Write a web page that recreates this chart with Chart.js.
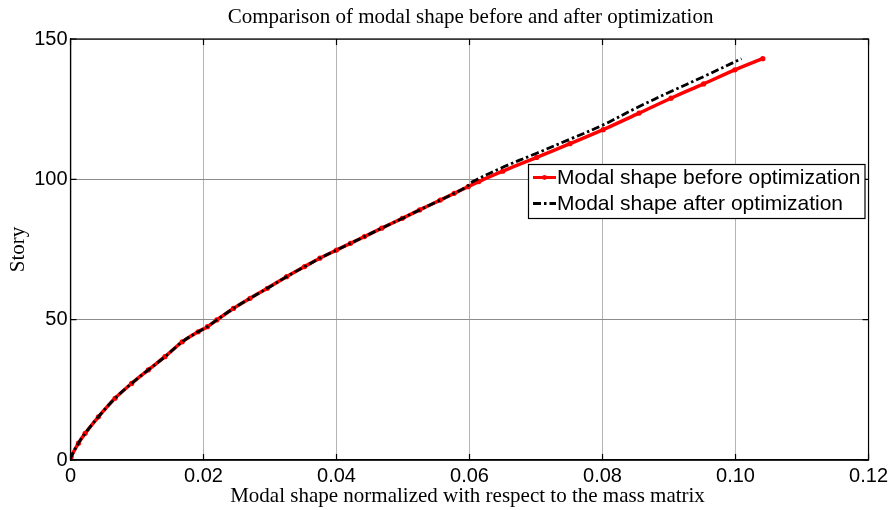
<!DOCTYPE html>
<html>
<head>
<meta charset="utf-8">
<script src="https://cdn.jsdelivr.net/npm/chart.js@4"></script>
<style>
  body { margin: 0; background: #fff; }
</style>
</head>
<body>
<canvas id="myChart" width="892" height="510"></canvas>
<script>
const ctx = document.getElementById('myChart').getContext('2d');

// values (story vs normalized modal shape)
const storyBefore = [0, 1.2, 6, 9.5, 15.4, 22, 27.3, 32.1, 36.8, 42.1, 45.7, 47.5, 49.9, 54, 57.6, 61.2, 65.3, 68.9, 71.9, 74.8, 77.2, 79.6, 82.6, 86.1, 89.1, 92.6, 95, 97.4, 99.2, 102.9, 107.8, 112.7, 117.7, 123.6, 128.9, 134, 139, 143];
const shapeBefore = [0, 0.0001, 0.0012, 0.0022, 0.0042, 0.0067, 0.0092, 0.0117, 0.0142, 0.0168, 0.0192, 0.0206, 0.022, 0.0245, 0.027, 0.0296, 0.0325, 0.0352, 0.0375, 0.04, 0.0421, 0.0442, 0.0468, 0.0499, 0.0525, 0.0556, 0.0577, 0.0598, 0.0614, 0.065, 0.0701, 0.0751, 0.0801, 0.0855, 0.0903, 0.0952, 0.0999, 0.1041];

const storyAfter = [0, 1.2, 6, 9.5, 15.4, 22, 27.3, 32.1, 36.8, 42.1, 45.7, 47.5, 49.9, 54, 57.6, 61.2, 65.3, 68.9, 71.9, 74.8, 77.2, 79.6, 82.6, 86.1, 89.1, 92.6, 95, 97.6, 99.2, 104.3, 109.3, 114.3, 119.4, 125.7, 131.2, 136.6, 143];
const shapeAfter = [0, 0.0001, 0.0012, 0.0022, 0.0042, 0.0067, 0.0092, 0.0117, 0.0142, 0.0168, 0.0192, 0.0206, 0.022, 0.0245, 0.027, 0.0296, 0.0325, 0.0352, 0.0375, 0.04, 0.0421, 0.0442, 0.0468, 0.0499, 0.0525, 0.0556, 0.0577, 0.0597, 0.0605, 0.065, 0.0701, 0.0751, 0.0801, 0.0853, 0.0902, 0.0952, 0.1009];

const seriesLabels = ['Modal shape before optimization', 'Modal shape after optimization'];
const chartTitle = 'Comparison of modal shape before and after optimization';
const xTitle = 'Modal shape normalized with respect to the mass matrix';
const yTitle = 'Story';

const blackDash = [8, 3, 2.5, 3];

// titles, box, inner ticks and legend like the matlab figure
const figureDecor = {
    id: 'figureDecor',
    afterDatasetsDraw(chart) {
        const c = chart.ctx;
        const a = chart.chartArea;
        const xs = chart.scales.x, ys = chart.scales.y;
        c.save();
        c.strokeStyle = '#000';
        c.lineWidth = 1.2;
        c.strokeRect(a.left, a.top, a.right - a.left, a.bottom - a.top);
        c.beginPath();
        xs.ticks.forEach(t => {
            const px = xs.getPixelForValue(t.value);
            c.moveTo(px, a.bottom); c.lineTo(px, a.bottom - 6);
            c.moveTo(px, a.top); c.lineTo(px, a.top + 6);
        });
        ys.ticks.forEach(t => {
            const py = ys.getPixelForValue(t.value);
            c.moveTo(a.left, py); c.lineTo(a.left + 6, py);
            c.moveTo(a.right, py); c.lineTo(a.right - 6, py);
        });
        c.stroke();

        // legend
        const lx = 528.5, ly = 164.5, lw = 336.5, lh = 54;
        c.fillStyle = '#fff';
        c.fillRect(lx, ly, lw, lh);
        c.lineWidth = 1.2;
        c.strokeRect(lx, ly, lw, lh);
        c.font = '21px "Liberation Sans", Arial, sans-serif';
        c.textBaseline = 'middle';
        c.textAlign = 'left';
        const rows = [177.5, 203.5];
        // red sample
        c.strokeStyle = '#ff0000';
        c.lineWidth = 3;
        c.beginPath(); c.moveTo(533, rows[0]); c.lineTo(556, rows[0]); c.stroke();
        c.fillStyle = '#ff0000';
        c.beginPath(); c.arc(544.5, rows[0], 2.4, 0, Math.PI * 2); c.fill();
        // black sample
        c.strokeStyle = '#000';
        c.lineWidth = 2.8;
        c.setLineDash(blackDash);
        c.beginPath(); c.moveTo(533, rows[1]); c.lineTo(556, rows[1]); c.stroke();
        c.setLineDash([]);
        c.fillStyle = '#000';
        c.fillText(seriesLabels[0], 557, rows[0] + 1);
        c.fillText(seriesLabels[1], 557, rows[1] + 1);

        // titles
        const cx = (a.left + a.right) / 2;
        c.font = '21px "Liberation Serif", "Times New Roman", serif';
        c.textAlign = 'center';
        c.textBaseline = 'alphabetic';
        c.fillText(chartTitle, cx + 1, 23);
        c.fillText(xTitle, cx - 2, 502);
        c.translate(18, (a.top + a.bottom) / 2);
        c.rotate(-Math.PI / 2);
        c.textBaseline = 'middle';
        c.fillText(yTitle, 0, 0);
        c.restore();
    }
};

const data = {
    datasets: [
        {
            label: seriesLabels[0],
            data: shapeBefore.map((v, i) => ({ x: v, y: storyBefore[i] })),
            showLine: true,
            borderColor: '#ff0000',
            backgroundColor: '#ff0000',
            borderWidth: 3.5,
            pointRadius: 2.6,
            pointBorderWidth: 0,
            tension: 0.35,
            order: 1,
        },
        {
            label: seriesLabels[1],
            data: shapeAfter.map((v, i) => ({ x: v, y: storyAfter[i] })),
            showLine: true,
            borderColor: '#000',
            backgroundColor: '#000',
            borderWidth: 2.8,
            borderDash: blackDash,
            pointRadius: 0,
            tension: 0.35,
            order: 0,
        },
    ],
};

const config = {
    type: 'scatter',
    data: data,
    plugins: [figureDecor],
    options: {
        responsive: false,
        animation: false,
        layout: {
            padding: { left: 0, top: 39, right: 23, bottom: 0 },
        },
        plugins: {
            legend: { display: false },
            title: { display: false },
            tooltip: { enabled: false },
        },
        scales: {
            x: {
                type: 'linear',
                min: 0,
                max: 0.12,
                afterFit: (scale) => { scale.height = 50; },
                ticks: {
                    stepSize: 0.02,
                    color: '#000',
                    padding: 4,
                    font: { family: '"Liberation Sans", Arial, sans-serif', size: 20 },
                },
                grid: {
                    color: '#b4b4b4',
                    drawTicks: false,
                },
                border: { color: '#000', width: 1.2 },
            },
            y: {
                type: 'linear',
                min: 0,
                max: 150,
                afterFit: (scale) => { scale.width = 70.5; },
                ticks: {
                    stepSize: 50,
                    color: '#000',
                    padding: 3,
                    font: { family: '"Liberation Sans", Arial, sans-serif', size: 20 },
                },
                grid: {
                    color: '#8c8c8c',
                    drawTicks: false,
                },
                border: { color: '#000', width: 1.2 },
            },
        },
    },
};

const myChart = new Chart(ctx, config);
</script>
</body>
</html>
